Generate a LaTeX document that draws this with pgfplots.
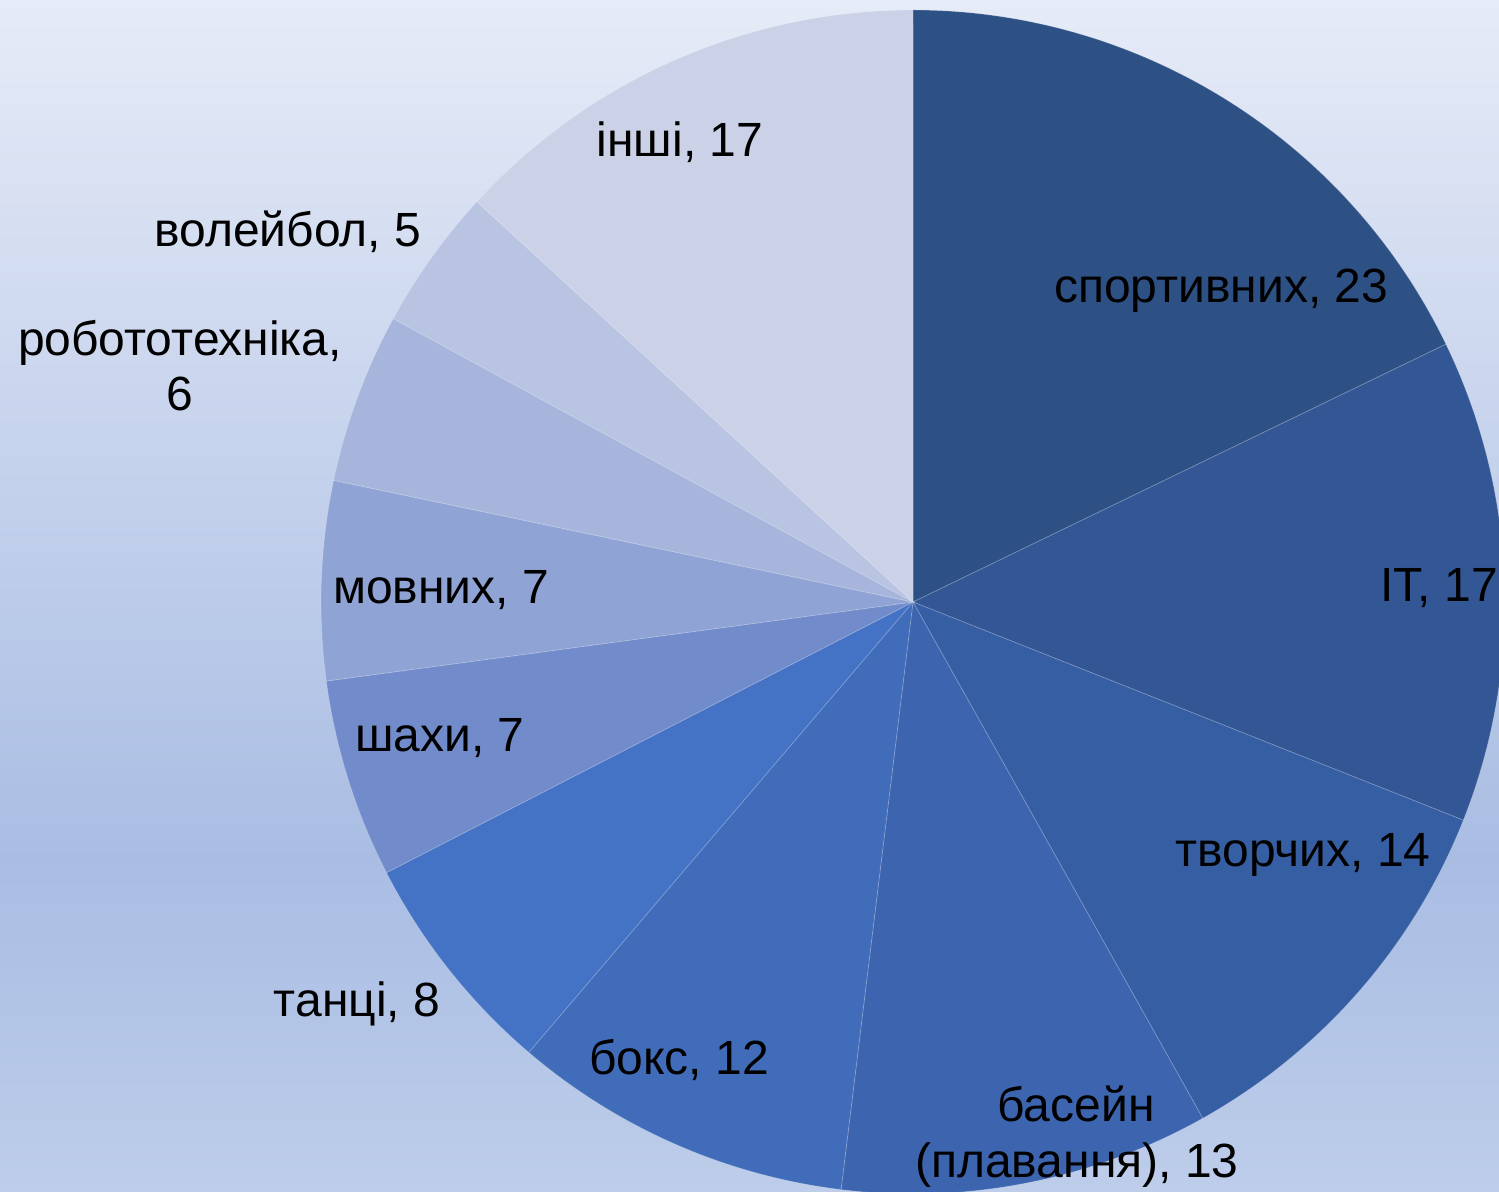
\documentclass[border=0pt]{standalone}
\usepackage{pgfplots}
\pgfplotsset{compat=1.18}
\usepackage{fontspec}
\setmainfont{Liberation Sans}

\definecolor{bgT}{HTML}{E6EBF7}
\definecolor{bgM}{HTML}{A9BDE3}
\definecolor{bgB}{HTML}{BDCDEA}
\pgfdeclareverticalshading{bg}{100bp}{color(0bp)=(bgB); color(25bp)=(bgB);
  color(39bp)=(bgM); color(75bp)=(bgT); color(100bp)=(bgT)}

\definecolor{c1}{HTML}{2E5185}
\definecolor{c2}{HTML}{335795}
\definecolor{c3}{HTML}{365EA3}
\definecolor{c4}{HTML}{3D65AF}
\definecolor{c5}{HTML}{406CB9}
\definecolor{c6}{HTML}{4472C4}
\definecolor{c7}{HTML}{728BCB}
\definecolor{c8}{HTML}{8FA3D4}
\definecolor{c9}{HTML}{A7B5DC}
\definecolor{c10}{HTML}{B9C3E2}
\definecolor{c11}{HTML}{CBD2E8}

\tikzset{lbl/.style={font=\fontsize{24}{28}\selectfont, anchor=base, inner sep=0pt}}

% pie geometry in pixel units of the reference
\def\cx{913}\def\cy{590}\def\rr{592}
\def\total{129}
\def\angA{90}
% one wedge, clockwise from the current angle
\newcommand\slice[2]{%
  \pgfmathsetmacro\angB{\angA-#1*360/\total}%
  \edef\doslice{\noexpand\addplot[fill=#2, draw=white, draw opacity=0.2,
      line width=0.4pt, domain=\angA:\angB, samples=90]
      ({\cx+\rr*cos(x)},{\cy+\rr*sin(x)}) -- (\cx,\cy) -- cycle;}%
  \doslice
  \global\let\angA\angB}

\begin{document}
\begin{tikzpicture}
\useasboundingbox (0,0) rectangle (749.5pt,596pt);
\clip (0,0) rectangle (749.5pt,596pt);
\fill[shading=bg] (0,0) rectangle (749.5pt,596pt);
\begin{axis}[
    at={(0,0)}, anchor=south west,
    x=0.5pt, y=0.5pt,
    xmin=0, xmax=1499, ymin=0, ymax=1192,
    hide axis, clip=false,
]
    \slice{23}{c1}  % спортивних
    \slice{17}{c2}  % IT
    \slice{14}{c3}  % творчих
    \slice{13}{c4}  % басейн (плавання)
    \slice{12}{c5}  % бокс
    \slice{8}{c6}   % танці
    \slice{7}{c7}   % шахи
    \slice{7}{c8}   % мовних
    \slice{6}{c9}   % робототехніка
    \slice{5}{c10}  % волейбол
    \slice{17}{c11} % інші

    \node[lbl] at (1221,889) {спортивних, 23};
    \node[lbl, anchor=base west] at (1380,590) {IT, 17};
    \node[lbl] at (1303,325) {творчих, 14};
    \node[lbl] at (1076,70) {басейн};
    \node[lbl] at (1077,14) {(плавання), 13};
    \node[lbl] at (679,117) {бокс, 12};
    \node[lbl] at (357,175) {танці, 8};
    \node[lbl] at (440,440) {шахи, 7};
    \node[lbl] at (441,588) {мовних, 7};
    \node[lbl] at (180,836) {робототехніка,};
    \node[lbl] at (180,781) {6};
    \node[lbl] at (288,945) {волейбол, 5};
    \node[lbl] at (680,1035) {інші, 17};
\end{axis}
\end{tikzpicture}
\end{document}
